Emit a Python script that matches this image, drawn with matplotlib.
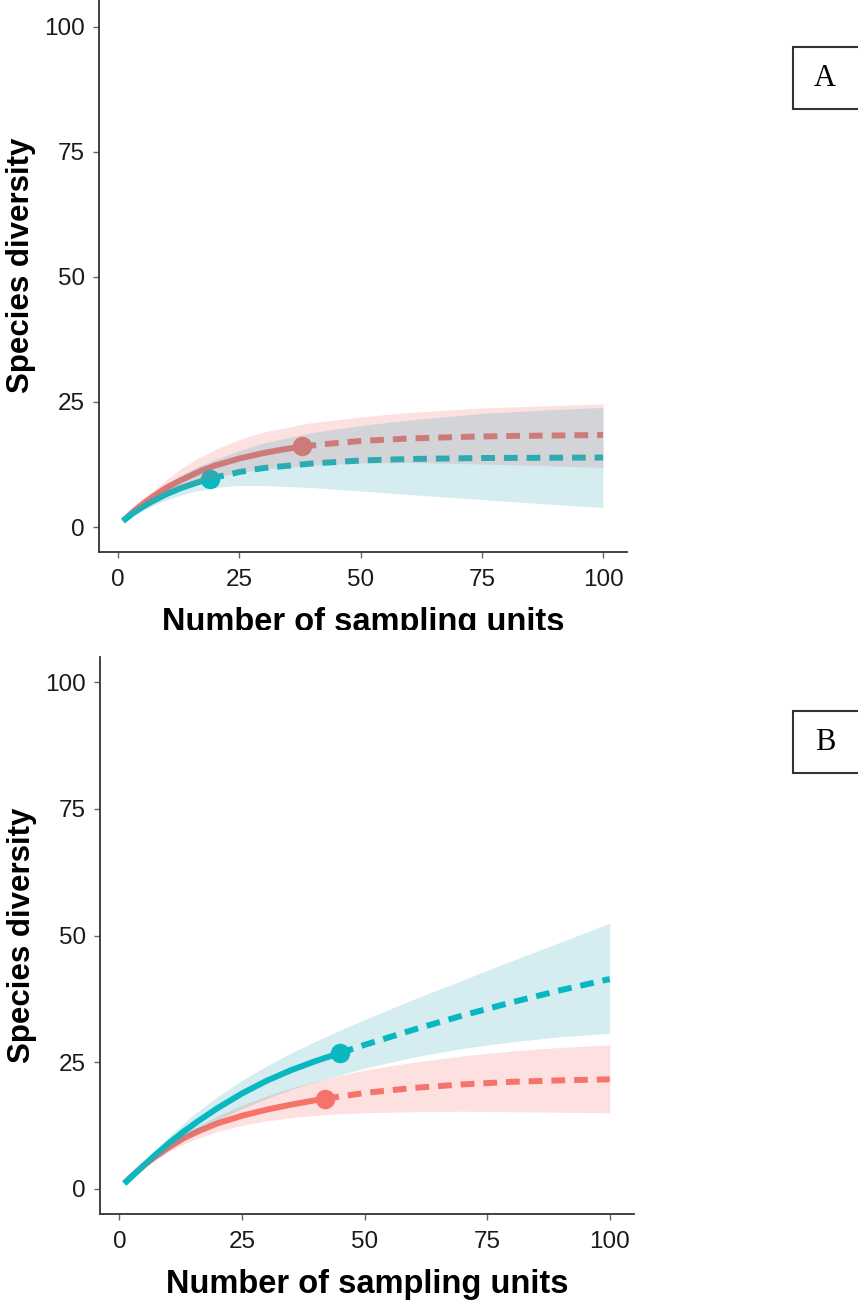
import matplotlib.pyplot as plt
from matplotlib.patches import Rectangle

plt.rcParams['font.family'] = ['Liberation Sans', 'DejaVu Sans']

RED = "#F8766D"
BLUE = "#00BFC4"
RED_FILL = "#F06964"
BLUE_FILL = "#2DA0B4"

# ---- panel A ----
a_red_obs_x = [1, 3, 5, 7, 10, 13, 17, 20, 25, 30, 34, 38]
a_red_obs_y = [1.2, 3.0, 4.6, 6.0, 7.9, 9.4, 11.2, 12.3, 13.7, 14.8, 15.5, 16.1]
a_red_ext_x = [38, 44, 50, 60, 70, 80, 90, 100]
a_red_ext_y = [16.1, 16.7, 17.2, 17.7, 18.0, 18.2, 18.3, 18.4]
a_red_band_x = [1, 3, 5, 7, 10, 13, 16, 20, 25, 30, 40, 50, 60, 75, 90, 100]
a_red_lo = [1.2, 2.6, 3.9, 5.0, 6.5, 7.7, 8.7, 9.9, 10.9, 11.6, 12.4, 12.8, 12.9, 12.6, 12.2, 11.9]
a_red_hi = [1.2, 3.2, 5.2, 7.0, 9.5, 11.7, 13.5, 15.5, 17.5, 19.0, 20.9, 22.0, 22.9, 23.8, 24.3, 24.6]

a_blue_obs_x = [1, 3, 5, 7, 10, 13, 16, 19]
a_blue_obs_y = [1.2, 2.7, 4.0, 5.1, 6.6, 7.8, 8.8, 9.7]
a_blue_ext_x = [19, 25, 30, 40, 50, 60, 75, 90, 100]
a_blue_ext_y = [9.7, 11.0, 11.8, 12.7, 13.3, 13.6, 13.8, 13.85, 13.9]
a_blue_band_x = [1, 3, 5, 7, 10, 13, 16, 20, 25, 30, 40, 50, 60, 75, 90, 100]
a_blue_lo = [1.2, 2.3, 3.3, 4.2, 5.4, 6.4, 7.2, 7.9, 8.3, 8.3, 7.9, 7.2, 6.5, 5.5, 4.5, 3.9]
a_blue_hi = [1.2, 3.0, 4.8, 6.4, 8.5, 10.3, 11.9, 13.5, 15.3, 16.8, 18.9, 20.3, 21.4, 22.7, 23.5, 23.9]

# ---- panel B ----
b_red_obs_x = [1, 3, 5, 7, 10, 13, 16, 20, 25, 30, 35, 42]
b_red_obs_y = [1.1, 2.9, 4.6, 6.1, 8.1, 9.9, 11.3, 12.9, 14.4, 15.6, 16.6, 17.8]
b_red_ext_x = [42, 50, 60, 70, 80, 90, 100]
b_red_ext_y = [17.8, 18.9, 19.9, 20.6, 21.1, 21.4, 21.6]
b_red_band_x = [1, 5, 10, 15, 20, 25, 30, 35, 40, 45, 50, 60, 70, 80, 90, 100]
b_red_lo = [1.1, 4.2, 7.3, 9.6, 11.3, 12.5, 13.4, 14.0, 14.5, 14.8, 15.0, 15.2, 15.3, 15.2, 15.1, 15.0]
b_red_hi = [1.1, 4.9, 8.8, 11.9, 14.4, 16.5, 18.3, 19.9, 21.2, 22.4, 23.4, 25.0, 26.2, 27.2, 27.9, 28.4]

b_blue_obs_x = [1, 3, 5, 7, 10, 13, 16, 20, 25, 30, 35, 40, 45]
b_blue_obs_y = [1.0, 2.8, 4.6, 6.4, 8.9, 11.2, 13.3, 15.9, 18.8, 21.3, 23.4, 25.2, 26.8]
b_blue_ext_x = [45, 50, 55, 60, 65, 70, 75, 80, 85, 90, 95, 100]
b_blue_ext_y = [26.8, 28.4, 29.9, 31.4, 32.8, 34.2, 35.5, 36.8, 38.0, 39.2, 40.3, 41.4]
b_blue_band_x = [1, 5, 10, 15, 20, 25, 30, 35, 40, 45, 50, 60, 70, 80, 90, 100]
b_blue_lo = [1.1, 4.1, 7.8, 10.9, 13.5, 15.8, 17.8, 19.6, 21.1, 22.5, 23.8, 26.0, 27.7, 29.0, 30.0, 30.7]
b_blue_hi = [1.1, 5.2, 10.2, 14.5, 18.2, 21.4, 24.2, 26.8, 29.1, 31.3, 33.4, 37.4, 41.2, 45.0, 48.7, 52.4]

ticks = [0, 25, 50, 75, 100]

W, H = 858, 1300
fig = plt.figure(figsize=(W / 100, H / 100), dpi=100)


def px_axes(left, right, top, bottom):
    return fig.add_axes([left / W, 1 - bottom / H, (right - left) / W, (bottom - top) / H])


def panel(ax, series, ytop):
    for obs_x, obs_y, ext_x, ext_y, bx, lo, hi, col, fcol in series:
        ax.plot(obs_x, obs_y, color=col, lw=4.3, solid_capstyle='butt',
                solid_joinstyle='round', zorder=2)
        ax.plot(ext_x, ext_y, color=col, lw=4.3, dashes=(2.3, 1.5), zorder=2)
        ax.plot(obs_x[-1], obs_y[-1], 'o', color=col, ms=13, zorder=3)
    for obs_x, obs_y, ext_x, ext_y, bx, lo, hi, col, fcol in series:
        ax.fill_between(bx, lo, hi, color=fcol, alpha=0.2, lw=0, zorder=4)
    ax.set_xlim(-3.95, 104.95)
    ax.set_ylim(-5, ytop)
    ax.set_xticks(ticks)
    ax.set_yticks(ticks)
    for s in ['top', 'right']:
        ax.spines[s].set_visible(False)
    for s in ['left', 'bottom']:
        ax.spines[s].set_color('#333333')
        ax.spines[s].set_linewidth(1.3)
    ax.tick_params(length=4, width=1, color='#666666', labelsize=17.5,
                   labelcolor='#1a1a1a')
    ax.tick_params(axis='x', pad=8)
    ax.tick_params(axis='y', pad=6)
    ax.set_ylabel('Species diversity', fontsize=22.5, fontweight='bold', labelpad=6)
    ax.set_xlabel('Number of sampling units', fontsize=23.5, fontweight='bold', labelpad=12)


# panel A is cut at the top edge of the picture
axA = px_axes(99, 627, -22, 552)
panel(axA, [
    (a_red_obs_x, a_red_obs_y, a_red_ext_x, a_red_ext_y, a_red_band_x, a_red_lo, a_red_hi, RED, RED_FILL),
    (a_blue_obs_x, a_blue_obs_y, a_blue_ext_x, a_blue_ext_y, a_blue_band_x, a_blue_lo, a_blue_hi, BLUE, BLUE_FILL),
], 109.8)

axB = px_axes(100, 634, 657, 1214)
panel(axB, [
    (b_red_obs_x, b_red_obs_y, b_red_ext_x, b_red_ext_y, b_red_band_x, b_red_lo, b_red_hi, RED, RED_FILL),
    (b_blue_obs_x, b_blue_obs_y, b_blue_ext_x, b_blue_ext_y, b_blue_band_x, b_blue_lo, b_blue_hi, BLUE, BLUE_FILL),
], 105)

# the source figure cuts off the lower part of panel A's x label
fig.patches.append(Rectangle((0, 1 - 652 / H), 1, 22 / H, transform=fig.transFigure,
                             facecolor='white', edgecolor='none', zorder=10))

# panel letters in boxes
for label, top, bottom in [('A', 47, 109), ('B', 711, 773)]:
    fig.patches.append(Rectangle((793 / W, 1 - bottom / H), 80 / W, (bottom - top) / H,
                                 transform=fig.transFigure, facecolor='white',
                                 edgecolor='#333333', lw=1.5, zorder=11))
    fig.text(825 / W, 1 - (top + bottom) / 2 / H, label, family='Liberation Serif',
             fontsize=22, ha='center', va='center', zorder=12)

fig.savefig('out.png', dpi=100)
